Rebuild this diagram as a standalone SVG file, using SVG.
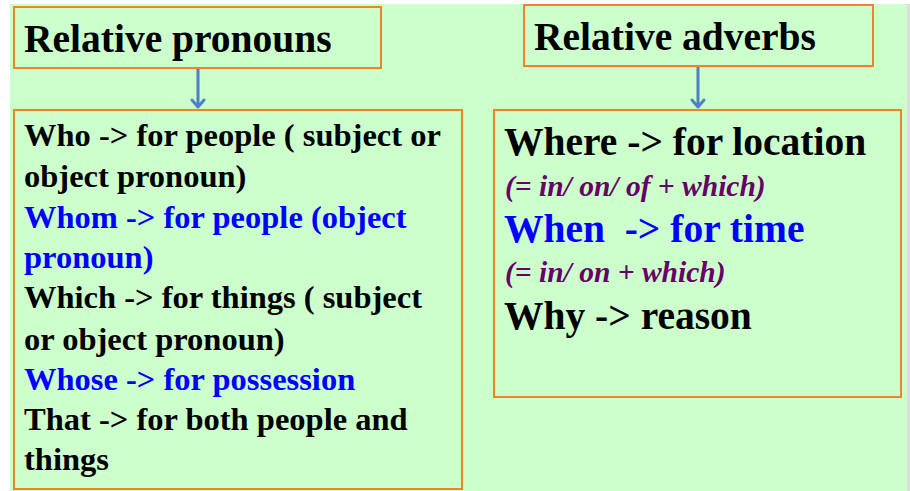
<svg xmlns="http://www.w3.org/2000/svg" width="910" height="491" viewBox="0 0 910 491">
<style>
.box{fill:#CCFFCC;stroke:#F0822A;stroke-width:2}
.t{font-family:"Liberation Serif","Times New Roman",serif;font-weight:bold;fill:#000}
.title{font-size:39.5px}
.body{font-size:32.5px}
.big{font-size:39.5px}
.it{font-size:29.5px;font-style:italic;fill:#660066}
.blue{fill:#0000FF}
.conn{stroke:#4F7FC4;stroke-width:3;fill:none;stroke-linecap:round;stroke-linejoin:round}
</style>
<rect x="0" y="0" width="910" height="491" fill="#FFFFFF"/>
<rect x="907" y="4" width="3" height="487" fill="#DDDDDD"/>
<rect x="10" y="4" width="897" height="487" fill="#CCFFCC"/>
<g id="connectors">
<path class="conn" d="M198,68 V107 M192,100 L198,107 L204,100"/>
<path class="conn" d="M698,66 V107 M692,100 L698,107 L704,100"/>
</g>
<g id="pronouns-title">
<rect class="box" x="14" y="7" width="367" height="61"/>
<text class="t title" x="24" y="52">Relative pronouns</text>
</g>
<g id="adverbs-title">
<rect class="box" x="524" y="5" width="349" height="61"/>
<text class="t title" x="534" y="50">Relative adverbs</text>
</g>
<g id="pronouns-list">
<rect class="box" x="14" y="110" width="448" height="379"/>
<text class="t body" x="24" y="146">Who -&gt; for people ( subject or</text>
<text class="t body" x="24" y="187">object pronoun)</text>
<text class="t body blue" x="24" y="228">Whom -&gt; for people (object</text>
<text class="t body blue" x="24" y="268">pronoun)</text>
<text class="t body" x="24" y="308">Which -&gt; for things ( subject</text>
<text class="t body" x="24" y="350">or object pronoun)</text>
<text class="t body blue" x="24" y="390">Whose -&gt; for possession</text>
<text class="t body" x="24" y="430">That -&gt; for both people and</text>
<text class="t body" x="24" y="470">things</text>
</g>
<g id="adverbs-list">
<rect class="box" x="494" y="110" width="407" height="287"/>
<text class="t big" x="504" y="155">Where -&gt; for location</text>
<text class="t it" x="505" y="196">(= in/ on/ of + which)</text>
<text class="t big blue" x="504" y="242" xml:space="preserve">When  -&gt; for time</text>
<text class="t it" x="505" y="282">(= in/ on + which)</text>
<text class="t big" x="504" y="329">Why -&gt; reason</text>
</g>
</svg>
